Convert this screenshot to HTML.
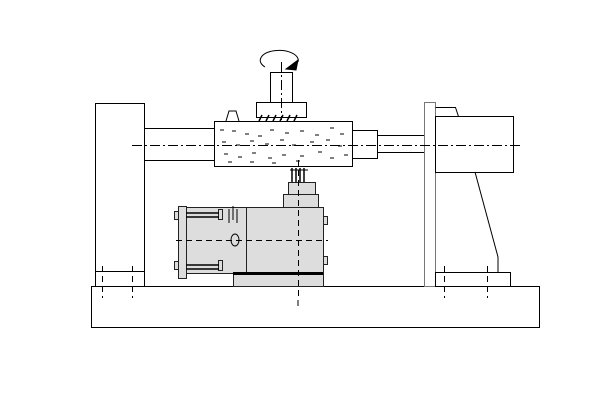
<!DOCTYPE html>
<html><head><meta charset="utf-8"><style>html,body{margin:0;padding:0;background:#fff}svg{display:block}</style></head>
<body>
<svg width="600" height="400" viewBox="0 0 600 400" xmlns="http://www.w3.org/2000/svg" fill="none" stroke="#000" stroke-width="1">
<rect width="600" height="400" fill="#fff" stroke="none"/>
<rect x="91.5" y="286.5" width="448" height="41"/>
<rect x="95.5" y="103.5" width="49" height="183"/>
<rect x="95.5" y="271.5" width="49" height="15"/>
<rect x="144.5" y="128.5" width="70" height="32"/>
<rect x="214.5" y="121.5" width="138" height="45"/>
<path d="M220 130h4M232 131h4M245 134h4M258 136h4M270 130h4M285 133h4M300 131h4M315 135h4M330 128h4M340 134h4 M222 142h4M236 145h4M250 141h4M265 144h4M280 140h4M292 145h4M310 142h4M326 140h4M338 146h4 M224 154h4M238 157h4M252 153h4M268 158h4M282 155h4M300 156h4M318 152h4M330 158h4M344 155h4 M228 162h4M250 162h4M272 163h4M296 161h4"/>
<rect x="352.5" y="130.5" width="25" height="28"/>
<rect x="377.5" y="135.5" width="47" height="17"/>
<rect x="424.5" y="102.5" width="11" height="184" stroke="#777"/>
<rect x="435.5" y="116.5" width="78" height="56"/>
<path d="M435.5 107.5h20l3 9"/>
<path d="M475 172L498 257V272"/>
<rect x="435.5" y="272.5" width="75" height="14"/>
<rect x="270.5" y="72.5" width="22" height="30"/>
<rect x="256.5" y="102.5" width="50" height="15"/>
<path d="M259 121l3-6M266 121l3-6M273 121l3-6M280 121l3-6M287 121l3-6M294 121l3-6" stroke-width="1.5"/>
<path d="M226 121l3-10h7l3 10"/>
<path d="M265 67 A19 10 0 1 1 298 62"/>
<path d="M286 69l12-9-2 10z" fill="#000"/>
<g fill="#ddd" stroke="#222">
<rect x="233.5" y="272.5" width="90" height="14"/>
<rect x="246.5" y="207.5" width="77" height="65"/>
<rect x="185.5" y="207.5" width="61" height="66"/>
<rect x="283.5" y="194.5" width="35" height="13"/>
<rect x="288.5" y="182.5" width="27" height="12"/>
<rect x="178.5" y="206.5" width="8" height="72"/>
<rect x="323.5" y="216.5" width="4" height="8"/>
<rect x="323.5" y="256.5" width="4" height="8"/>
<rect x="174.5" y="211.5" width="4" height="8"/>
<rect x="174.5" y="261.5" width="4" height="8"/>
<rect x="218.5" y="209.5" width="4" height="10"/>
<rect x="218.5" y="260.5" width="4" height="10"/>
</g>
<path d="M186 213h33M186 217h33M186 265h33M186 269h33" stroke-width="1.5"/>
<path d="M233 273.5h90" stroke-width="3"/>
<path d="M292 168v14M296 168v14M300 168v14M304 168v14" stroke-width="1.5"/>
<path d="M290 170h18" />
<ellipse cx="235" cy="240" rx="4" ry="6" fill="#ddd"/>
<path d="M229 209v14M233 206v14M237 209v14"/>
<g stroke-dasharray="10 3 2 3">
<path d="M132 145.5H522"/>
<path d="M281.5 62V120"/>
</g>
<g stroke-dasharray="6 4">
<path d="M298.5 160V300"/>
<path d="M176 240.5H328"/>
<path d="M102.5 266V298M132.5 266V298M444.5 266V298M487.5 266V298"/>
<path d="M298 300v8"/>
</g>
</svg>
</body></html>
